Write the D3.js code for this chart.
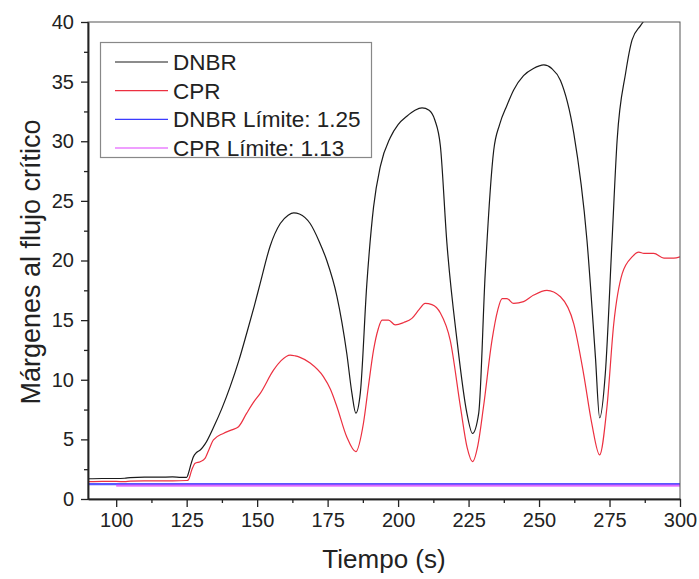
<!DOCTYPE html>
<html><head><meta charset="utf-8">
<script src="https://cdn.jsdelivr.net/npm/d3@7"></script>
<style>body{margin:0;background:#fff}svg{display:block}text{font-family:"Liberation Sans",Arial,sans-serif;fill:#222}</style>
</head><body>
<svg id="c" width="699" height="579"></svg>
<script>
// ---- data ----
const dnbrTime = [90,95,100,103,105,110,115,120,123,125,125.8,126.5,127.4,128.5,130,131.5,134.5,137.5,140.4,143.5,146.3,149,151.1,154.6,158.2,161,163,165,168.8,172,174.7,178.3,181.8,183.6,185,186.6,188.9,191.3,193.7,197.2,200,203.1,206,208.5,211,213,215,217.3,220.9,224.4,226.4,228.6,230.9,233.9,236,238.6,241,244.5,248,251.7,254.5,257.6,262.3,267,270,271.5,273.5,275.9,277.7,280.7,283,286,289];
const dnbrValue = [1.70,1.72,1.72,1.74,1.80,1.84,1.83,1.85,1.82,1.82,2.3,2.9,3.55,3.9,4.15,4.6,6.0,7.6,9.4,11.6,13.9,16.2,18.1,21.2,23.1,23.8,24.0,23.9,23.1,21.6,20.0,17.0,12.2,8.9,7.2,8.9,18.0,24.5,27.9,30.3,31.4,32.1,32.6,32.8,32.6,31.8,29.6,21.5,13.3,7.2,5.5,7.2,18.9,29.2,31.4,33.0,34.3,35.5,36.1,36.4,36.1,35.1,30.7,21.7,11.9,6.8,10.5,21.7,30.1,35.7,38.5,39.7,40.6];
const cprTime = [90,95,100,103,105,110,115,120,125,125.6,126.8,128,129.8,131.5,133,134.5,138,141,143.4,146.3,149,151.1,155.8,158.5,161.7,163.5,165,168.8,173.5,176,178.3,181.8,185,187.7,189.5,191.3,193,194.3,196.6,199,202,204.9,207.5,209.6,212,215,218.5,222.1,224.5,226.4,228.3,230.3,233.3,235.3,236.9,238.6,241,244.5,248.1,252.8,257.6,262.3,265.8,268.7,271.5,274.1,276.5,279.5,283,285.4,287.2,290.7,294.3,297.8,300];
const cprValue = [1.45,1.47,1.48,1.45,1.50,1.52,1.52,1.52,1.55,1.6,2.43,3.0,3.13,3.4,4.2,4.95,5.5,5.8,6.06,7.2,8.2,8.86,10.8,11.6,12.07,12.0,11.9,11.4,10.26,9.2,7.74,5.2,3.97,6.35,9.5,12.5,14.3,15.0,15.0,14.6,14.8,15.15,15.9,16.4,16.3,15.6,13.3,7.74,4.3,3.13,4.5,7.74,13.3,15.8,16.8,16.8,16.4,16.55,17.1,17.5,16.96,14.7,10.5,6.35,3.7,7.74,14.7,18.9,20.3,20.7,20.6,20.6,20.2,20.2,20.3];
const dnbrLimitTime = [90,300];
const dnbrLimitValue = [1.25,1.25];
const cprLimitTime = [100,300];
const cprLimitValue = [1.13,1.13];
const xTicks = [100,125,150,175,200,225,250,275,300];
const xMinorTicks = [112.5,137.5,162.5,187.5,212.5,237.5,262.5,287.5];
const yTicks = [0,5,10,15,20,25,30,35,40];
const yMinorTicks = [2.5,7.5,12.5,17.5,22.5,27.5,32.5,37.5];
const legendLabels = ["DNBR","CPR","DNBR L\u00edmite: 1.25","CPR L\u00edmite: 1.13"];
const seriesColors = ["#1a1a1a","#ec3040","#3b3bff","#e040ff"];
const xTitle = "Tiempo (s)";
const yTitle = "M\u00e1rgenes al flujo cr\u00edtico";

// ---- layout ----
const svg = d3.select("#c");
const L = 88, R = 680, T = 22, B = 499;
const x = d3.scaleLinear().domain([90,300]).range([L,R]);
const y = d3.scaleLinear().domain([0,40]).range([B,T]);

svg.append("defs").append("clipPath").attr("id","clip")
  .append("rect").attr("x",L).attr("y",T).attr("width",R-L).attr("height",B-T);

const zip = (t,v) => t.map((d,i)=>[d,v[i]]);
const line = d3.line().x(d=>x(d[0])).y(d=>y(d[1])).curve(d3.curveMonotoneX);
const g = svg.append("g").attr("clip-path","url(#clip)");

g.append("path").datum(zip(dnbrLimitTime,dnbrLimitValue)).attr("d",line)
  .attr("fill","none").attr("stroke",seriesColors[2]).attr("stroke-width",2.2).attr("opacity",0.85);
g.append("path").datum(zip(cprLimitTime,cprLimitValue)).attr("d",line)
  .attr("fill","none").attr("stroke",seriesColors[3]).attr("stroke-width",2.2).attr("opacity",0.7);
g.append("path").datum(zip(cprTime,cprValue)).attr("d",line)
  .attr("fill","none").attr("stroke",seriesColors[1]).attr("stroke-width",1.2);
g.append("path").datum(zip(dnbrTime,dnbrValue)).attr("d",line)
  .attr("fill","none").attr("stroke",seriesColors[0]).attr("stroke-width",1.2);

// frame
svg.append("rect").attr("x",L).attr("y",T).attr("width",R-L).attr("height",B-T)
  .attr("fill","none").attr("stroke","#555").attr("stroke-width",1);

// axes
const fs = "20px";
svg.append("g").attr("transform",`translate(0,${B})`)
  .call(d3.axisBottom(x).tickValues(xTicks).tickSize(8).tickPadding(6).tickSizeOuter(0));
svg.append("g").attr("transform",`translate(0,${B})`)
  .call(d3.axisBottom(x).tickValues(xMinorTicks).tickSize(4).tickFormat("").tickSizeOuter(0));
svg.append("g").attr("transform",`translate(${L},0)`)
  .call(d3.axisLeft(y).tickValues(yTicks).tickSize(7).tickPadding(7).tickSizeOuter(0));
svg.append("g").attr("transform",`translate(${L},0)`)
  .call(d3.axisLeft(y).tickValues(yMinorTicks).tickSize(4).tickFormat("").tickSizeOuter(0));
svg.selectAll(".domain").attr("stroke","#222").attr("stroke-width",1.5);
svg.selectAll(".tick line").attr("stroke","#222").attr("stroke-width",1.3);
svg.selectAll(".tick text").attr("font-size",fs).attr("font-family","Liberation Sans, Arial, sans-serif").attr("fill","#222");

// titles
svg.append("text").attr("x",384).attr("y",568).attr("text-anchor","middle")
  .attr("font-size","26px").text(xTitle);
svg.append("text").attr("transform","translate(40,262) rotate(-90)").attr("text-anchor","middle")
  .attr("font-size","27px").text(yTitle);

// legend
const lg = svg.append("g");
lg.append("rect").attr("x",100.5).attr("y",42.5).attr("width",271).attr("height",115)
  .attr("fill","#fff").attr("stroke","#888").attr("stroke-width",1.2);
const rowY = d3.scalePoint().domain(d3.range(legendLabels.length)).range([62,148]);
legendLabels.forEach((lab,i)=>{
  const yy = rowY(i);
  lg.append("line").attr("x1",115).attr("x2",168).attr("y1",yy).attr("y2",yy)
    .attr("stroke",seriesColors[i]).attr("stroke-width",1.2);
  lg.append("text").attr("x",173).attr("y",yy).attr("dy","0.36em")
    .attr("font-size","22.5px").text(lab);
});
</script>
</body></html>
